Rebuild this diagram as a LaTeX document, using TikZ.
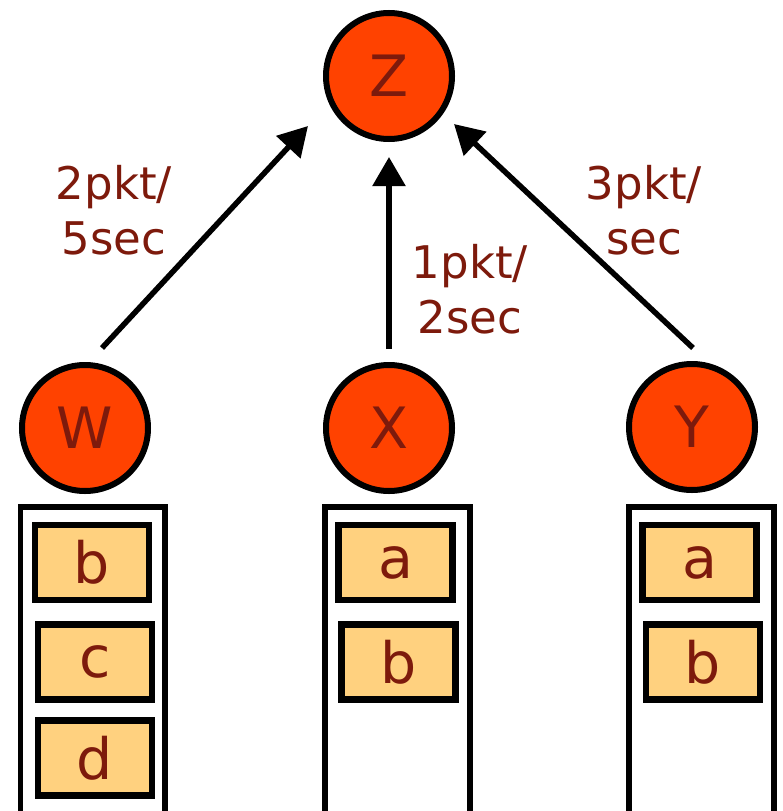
\documentclass[tikz,border=0pt]{standalone}
\usepackage{fontspec}
\setmainfont{DejaVu Sans}
\usetikzlibrary{arrows.meta}
\definecolor{txt}{HTML}{7D1A0C}
\definecolor{nodefill}{HTML}{FF4200}
\definecolor{pktfill}{HTML}{FFD17F}
\tikzset{
  circ/.style={circle, draw=black, line width=6pt, fill=nodefill, minimum size=126pt, inner sep=0pt,
    text=txt, font=\fontsize{57}{60}\selectfont},
  pkt/.style={rectangle, draw=black, line width=6.5pt, fill=pktfill, minimum width=114pt, minimum height=75pt,
    inner sep=0pt, text=txt, font=\fontsize{57}{60}\selectfont},
  queue/.style={draw=black, line width=5.5pt},
  arr/.style={draw=black, line width=5.5pt, -{Triangle[length=29pt,width=32pt]}},
  rate/.style={align=center, text=txt, font=\fontsize{45}{55}\selectfont, inner sep=0pt}
}
\begin{document}
\begin{tikzpicture}[x=1pt,y=-1pt]
\useasboundingbox (0,0) rectangle (783,811);
% nodes
\node[circ] (Z) at (389,76) {Z};
\node[circ] (W) at (85,428) {W};
\node[circ] (X) at (389,428) {X};
\node[circ] (Y) at (692,427) {Y};
% queues
\draw[queue] (20.5,815) -- (20.5,507) -- (165,507) -- (165,815);
\draw[queue] (325,815) -- (325,507) -- (470,507) -- (470,815);
\draw[queue] (629,815) -- (629,507) -- (774,507) -- (774,815);
% packets
\node[pkt] (wb) at (92,562.5) {b};
\node[pkt] (wc) at (95,662) {c};
\node[pkt] (wd) at (95,758) {d};
\node[pkt] (xa) at (395.5,562.5) {a};
\node[pkt] (xb) at (398.5,662) {b};
\node[pkt] (ya) at (699.5,562.5) {a};
\node[pkt] (yb) at (703,662) {b};
% arrows
\coordinate (wt) at (102,348);
\coordinate (wz) at (308,126);
\coordinate (xt) at (389,349);
\coordinate (xz) at (389,157);
\coordinate (yt) at (693,348);
\coordinate (yz) at (454,124);
\draw[arr] (wt) -- (wz);
\draw[arr] (xt) -- (xz);
\draw[arr] (yt) -- (yz);
% labels
\node[rate, anchor=base] (l1) at (114,254) {2pkt/\\5sec};
\node[rate, anchor=base] (l2) at (470,333) {1pkt/\\2sec};
\node[rate, anchor=base] (l3) at (644,254) {3pkt/\\sec};
\end{tikzpicture}
\end{document}
